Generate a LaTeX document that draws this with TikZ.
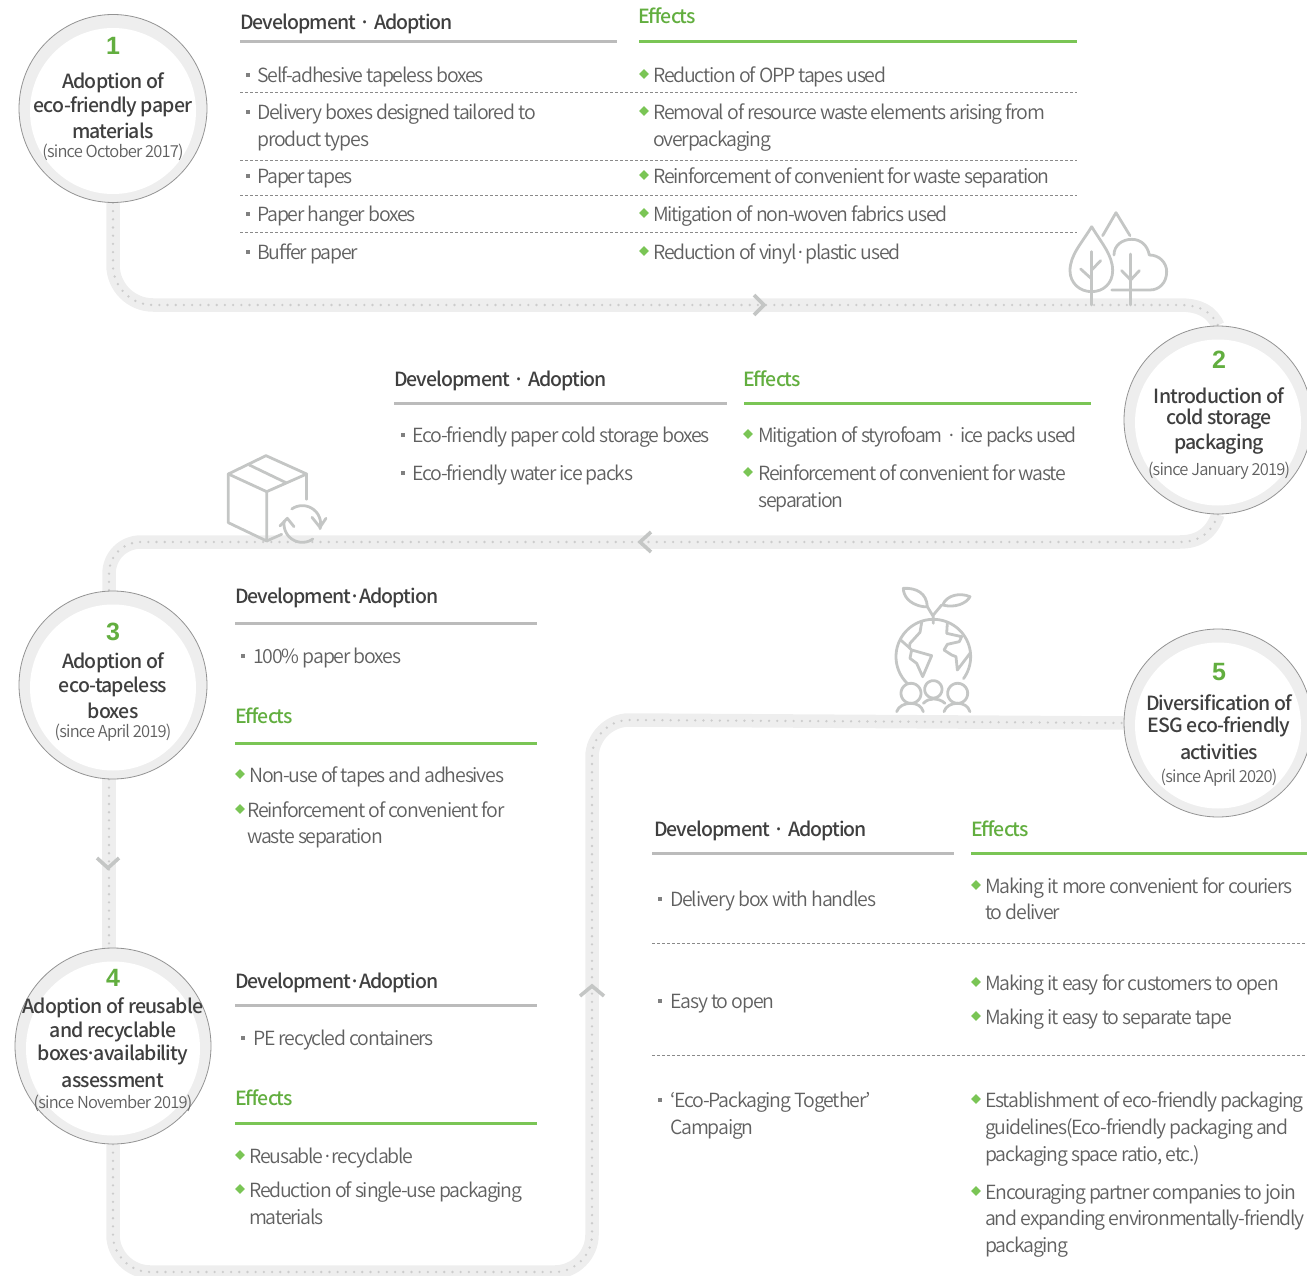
\documentclass[tikz,border=0pt]{standalone}
\usepackage{fontspec}
\setmainfont{Noto Sans CJK KR DemiLight}[LetterSpace=-6,BoldFont={Noto Sans CJK KR DemiLight}]
\newfontfamily\sincefont{Noto Sans CJK KR DemiLight}[LetterSpace=-5]
\newfontfamily\medfont{Noto Sans CJK KR Medium}[LetterSpace=-5]
\newfontfamily\titlefont{Noto Sans CJK KR Medium}[LetterSpace=-3.9]
\newfontfamily\numfont{Liberation Sans Bold}
\usetikzlibrary{backgrounds}
\definecolor{bandc}{HTML}{EEEEEE}
\definecolor{dotc}{HTML}{CCCCCC}
\definecolor{iconc}{HTML}{C4C6C5}
\definecolor{rulec}{HTML}{BBBBBB}
\definecolor{greenc}{HTML}{7AC555}
\definecolor{greent}{HTML}{62AE3F}
\definecolor{textc}{HTML}{606060}
\definecolor{headc}{HTML}{3F3F3F}
\definecolor{dashc}{HTML}{8A8A8A}
\newcounter{tn}
\tikzset{
 band/.style={draw=bandc,line width=13.5pt},
 dotline/.style={draw=dotc,line width=2.6pt,line cap=round,dash pattern=on 0pt off 8.2pt},
 chevron/.style={draw=iconc,line width=3.6pt},
 icon/.style={draw=iconc,line width=2.8pt,line join=round,line cap=round},
 greyrule/.style={draw=rulec,line width=3pt},
 greenrule/.style={draw=greenc,line width=3pt},
 dashrule/.style={draw=dashc,line width=.7pt,dash pattern=on 3pt off 2pt},
 body/.style={anchor=base west,inner sep=0pt,text=textc,font=\fontsize{19.5}{24}\selectfont},
 head/.style={anchor=base west,inner sep=0pt,text=headc,font=\medfont\fontsize{19.5}{24}\selectfont},
 eff/.style={anchor=base west,inner sep=0pt,text=greent,font=\medfont\fontsize{19.5}{24}\selectfont},
 ctitle/.style={anchor=center,inner sep=0pt,yshift=-.5pt,text=headc,font=\titlefont\fontsize{19.5}{24}\selectfont},
 csince/.style={anchor=center,inner sep=0pt,text=textc,font=\sincefont\fontsize{16.5}{20}\selectfont},
 cnum/.style={anchor=center,inner sep=0pt,text=greent,font=\numfont\fontsize{25}{28}\selectfont},
 ringc/.style={circle,draw=gray!85,line width=.8pt,fill=bandc,inner sep=0pt},
 bulsq/.style={fill=textc!80,minimum size=4.4pt,inner sep=0pt,draw=none},
 diam/.style={fill=greenc,draw=none,inner sep=0pt,minimum size=7pt,rotate=45},
}
\newcommand{\tx}[4]{\stepcounter{tn}\node[#1] (t\arabic{tn}) at (#2,#3+1) {#4};}
\newcommand{\bl}[2]{\stepcounter{tn}\node[bulsq] (t\arabic{tn}) at (#1,#2) {};}
\newcommand{\dm}[2]{\stepcounter{tn}\node[diam] (t\arabic{tn}) at (#1,#2) {};}
\newcommand{\hr}[4]{\draw[#1] (#2,#4) -- (#3,#4);}
\begin{document}
\begin{tikzpicture}[x=1pt,y=-1pt]
\useasboundingbox (0,0) rectangle (1307,1276);
\clip (0,0) rectangle (1307,1276);
% circles
\node[ringc,minimum size=188pt] (c1) at (113,108.5) {};
\fill[white] (113,111) circle (83pt);
\node[ringc,minimum size=188pt] (c2) at (1218,420) {};
\fill[white] (1218,422.5) circle (83pt);
\node[ringc,minimum size=188pt] (c3) at (113,685) {};
\fill[white] (113,687.5) circle (83pt);
\node[ringc,minimum size=196pt] (c4) at (113,1046) {};
\fill[white] (113,1048.5) circle (87pt);
\node[ringc,minimum size=188pt] (c5) at (1218,723) {};
\fill[white] (1218,725.5) circle (83pt);
\coordinate (c3top) at (109,592);
% connectors
\begin{scope}[on background layer]
\foreach \st in {band,dotline}{
 \draw[\st] (c1.south) -- (113,265) .. controls (113,287) and (131,305) .. (153,305) -- (1180,305) .. controls (1200,305) and (1212,312) .. (c2.north);
 \draw[\st] (c2.south) .. controls (1212,532) and (1200,542) .. (1180,542) -- (141,542) .. controls (123,542) and (109,556) .. (109,574) -- (c3top);
 \draw[\st] ([xshift=-4pt]c3.south) -- ([xshift=-4pt]c4.north);
 \draw[\st] (c4.south) -- (113,1235) .. controls (113,1255) and (130,1272) .. (150,1272) -- (555,1272) .. controls (575,1272) and (592,1255) .. (592,1235) -- (592,757) .. controls (592,737) and (609,720) .. (629,720) -- (c5.west);
}
\end{scope}
% chevrons
\coordinate (ar1) at (759,305);
\coordinate (ar2) at (645,542);
\coordinate (ar3) at (108,864);
\coordinate (ar4) at (592,990);
\draw[chevron] ([shift={(-5,-10)}]ar1) -- ++(10,10) -- ++(-10,10);
\draw[chevron] ([shift={(6,-10)}]ar2) -- ++(-11,10) -- ++(11,10);
\draw[chevron] ([shift={(-11,-6)}]ar3) -- ++(11,10) -- ++(11,-10);
\draw[chevron] ([shift={(-12,6)}]ar4) -- ++(12,-10) -- ++(12,10);
% trees
\begin{scope}[shift={(1040,200)},x=.3333pt,y=-.3333pt]
\draw[icon] (155,80) .. controls (125,130) and (90,165) .. (90,212) .. controls (90,250) and (120,275) .. (155,275) .. controls (190,275) and (218,250) .. (218,212) .. controls (218,165) and (185,130) .. (155,80);
\draw[icon] (155,155) -- (155,315);
\draw[icon] (122,207) -- (155,237);
\draw[icon] (182,182) -- (155,210);
\draw[icon] (188,107) -- (228,38) -- (270,107);
\draw[icon] (222,165) .. controls (222,135) and (248,118) .. (275,118) .. controls (302,118) and (322,135) .. (328,165) .. controls (358,165) and (380,188) .. (380,215) .. controls (380,248) and (358,270) .. (330,270) -- (215,270);
\draw[icon] (272,162) -- (272,315);
\draw[icon] (245,212) -- (272,240) -- (298,212);
\end{scope}
% box
\begin{scope}[shift={(200,440)},x=.3333pt,y=-.3333pt]
\draw[icon] (85,102) -- (198,47) -- (320,102) -- (200,155) -- cycle;
\draw[icon] (85,102) -- (85,248) -- (200,303) -- (200,155);
\draw[icon] (320,102) -- (320,178);
\draw[icon] (200,303) -- (245,283);
\draw[icon] (148,75) -- (258,128);
\draw[icon] plot[domain=-125:15,samples=30] ({307+55*cos(\x)},{252+55*sin(\x)});
\draw[icon] (336,232) -- (360,262) -- (378,235);
\draw[icon] plot[domain=55:190,samples=30] ({307+55*cos(\x)},{252+55*sin(\x)});
\draw[icon] (240,258) -- (262,235) -- (282,260);
\end{scope}
% globe
\begin{scope}[shift={(870,575)},x=.3333pt,y=-.3333pt]
\draw[icon] plot[domain=-227:36,samples=60] ({190+112*cos(\x)},{245+112*sin(\x)});
\draw[icon] (155,142) -- (150,172) -- (120,205) -- (118,218);
\draw[icon] (92,195) -- (118,218) -- (125,225) -- (185,242) -- (158,305) -- (140,265) -- (120,250) -- (125,225);
\draw[icon] (232,145) -- (230,175) -- (275,185) -- (268,200) -- (232,208) -- (222,225) -- (245,240) -- (258,245) -- (262,285) -- (300,235);
\draw[icon] (190,145) -- (190,125) -- (172,95) -- (160,95);
\draw[icon] (160,95) .. controls (115,88) and (100,60) .. (100,40) .. controls (140,38) and (170,55) .. (172,95);
\draw[icon] (190,120) -- (215,90);
\draw[icon] (218,90) .. controls (230,60) and (270,52) .. (300,65) .. controls (290,85) and (255,100) .. (218,90);
\draw[icon] plot[domain=0:360,samples=50] ({190+26*cos(\x)},{343+26*sin(\x)});
\draw[icon] plot[domain=0:360,samples=50] ({123+30*cos(\x)},{355+30*sin(\x)});
\draw[icon] plot[domain=0:360,samples=50] ({263+30*cos(\x)},{355+30*sin(\x)});
\draw[icon] (80,410) .. controls (85,393) and (105,385) .. (122,385) .. controls (140,385) and (155,393) .. (160,410);
\draw[icon] (222,410) .. controls (227,393) and (245,385) .. (262,385) .. controls (280,385) and (295,393) .. (300,410);
\draw[icon] (160,385) .. controls (170,375) and (180,372) .. (190,372) .. controls (200,372) and (215,375) .. (225,385);
\end{scope}
% circle text
\tx{cnum}{113}{45}{1}
\tx{ctitle}{113}{81}{Adoption of}
\tx{ctitle}{113}{105}{eco-friendly paper}
\tx{ctitle}{113}{129}{materials}
\tx{csince}{113}{151}{(since October 2017)}
\tx{cnum}{1219}{359}{2}
\tx{ctitle}{1219}{394}{Introduction of}
\tx{ctitle}{1219}{418}{cold storage}
\tx{ctitle}{1219}{443}{packaging}
\tx{csince}{1219}{470}{(since January 2019)}
\tx{cnum}{113}{631}{3}
\tx{ctitle}{113}{661}{Adoption of}
\tx{ctitle}{113}{685}{eco-tapeless}
\tx{ctitle}{113}{709}{boxes}
\tx{csince}{113}{732}{(since April 2019)}
\tx{cnum}{113}{977}{4}
\tx{ctitle}{113}{1006}{Adoption of reusable}
\tx{ctitle}{113}{1030}{and recyclable}
\tx{ctitle}{113}{1053}{boxes\hspace{-3pt}·\hspace{-3pt}availability}
\tx{ctitle}{113}{1079}{assessment}
\tx{csince}{113}{1102}{(since November 2019)}
\tx{cnum}{1219}{671}{5}
\tx{ctitle}{1219}{701}{Diversification of}
\tx{ctitle}{1219}{725}{ESG eco-friendly}
\tx{ctitle}{1219}{750}{activities}
\tx{csince}{1219}{777}{(since April 2020)}
% block 1
\tx{head}{240}{29}{Development · Adoption}
\tx{eff}{638}{23}{Effects}
\hr{greyrule}{240}{617}{42}
\hr{greenrule}{639}{1077}{42}
\foreach \yy in {92,160,195,232}{\hr{dashrule}{240}{1077}{\yy}}
\bl{248}{75}\tx{body}{257}{82}{Self-adhesive tapeless boxes}
\bl{248}{112}\tx{body}{257}{119}{Delivery boxes designed tailored to}
\tx{body}{257}{146}{product types}
\bl{248}{176}\tx{body}{257}{183}{Paper tapes}
\bl{248}{214}\tx{body}{257}{221}{Paper hanger boxes}
\bl{248}{252}\tx{body}{257}{258}{Buffer paper}
\dm{644}{74}\tx{body}{653}{82}{Reduction of OPP tapes used}
\dm{644}{111}\tx{body}{653}{119}{Removal of resource waste elements arising from}
\tx{body}{653}{146}{overpackaging}
\dm{644}{175}\tx{body}{653}{183}{Reinforcement of convenient for waste separation}
\dm{644}{213}\tx{body}{653}{221}{Mitigation of non-woven fabrics used}
\dm{644}{251}\tx{body}{653}{258}{Reduction of vinyl·plastic used}
% block 2
\tx{head}{394}{385}{Development · Adoption}
\tx{eff}{743}{385}{Effects}
\hr{greyrule}{394}{727}{403}
\hr{greenrule}{744}{1091}{403}
\bl{403}{435}\tx{body}{412}{441}{Eco-friendly paper cold storage boxes}
\bl{403}{473}\tx{body}{412}{479}{Eco-friendly water ice packs}
\dm{748}{434}\tx{body}{758}{441}{Mitigation of styrofoam · ice packs used}
\dm{748}{472}\tx{body}{758}{479}{Reinforcement of convenient for waste}
\tx{body}{758}{506}{separation}
% block 3
\tx{head}{235}{602}{Development·Adoption}
\hr{greyrule}{235}{537}{623}
\bl{243}{656}\tx{body}{253}{662}{100\% paper boxes}
\tx{eff}{235}{722}{Effects}
\hr{greenrule}{235}{537}{743}
\dm{240}{774}\tx{body}{249}{781}{Non-use of tapes and adhesives}
\dm{240}{809}\tx{body}{247}{816}{Reinforcement of convenient for}
\tx{body}{247}{842}{waste separation}
% block 4
\tx{head}{235}{987}{Development·Adoption}
\hr{greyrule}{235}{537}{1005}
\bl{243}{1038}\tx{body}{253}{1044}{PE recycled containers}
\tx{eff}{235}{1104}{Effects}
\hr{greenrule}{235}{537}{1123}
\dm{240}{1155}\tx{body}{249}{1162}{Reusable·recyclable}
\dm{240}{1189}\tx{body}{249}{1196}{Reduction of single-use packaging}
\tx{body}{249}{1223}{materials}
% block 5
\tx{head}{654}{835}{Development · Adoption}
\tx{eff}{971}{835}{Effects}
\hr{greyrule}{652}{954}{853}
\hr{greenrule}{971}{1307}{853}
\hr{dashrule}{652}{1307}{943}
\hr{dashrule}{652}{1307}{1055}
\bl{660}{899}\tx{body}{670}{905}{Delivery box with handles}
\bl{660}{1001}\tx{body}{670}{1007}{Easy to open}
\bl{660}{1100}\tx{body}{670}{1106}{‘Eco-Packaging Together’}
\tx{body}{670}{1133}{Campaign}
\dm{976}{885}\tx{body}{985}{892}{Making it more convenient for couriers}
\tx{body}{985}{918}{to deliver}
\dm{976}{982}\tx{body}{985}{989}{Making it easy for customers to open}
\dm{976}{1016}\tx{body}{985}{1023}{Making it easy to separate tape}
\dm{976}{1099}\tx{body}{985}{1106}{Establishment of eco-friendly packaging}
\tx{body}{985}{1133}{guidelines(Eco-friendly packaging and}
\tx{body}{985}{1160}{packaging space ratio, etc.)}
\dm{976}{1191}\tx{body}{985}{1198}{Encouraging partner companies to join}
\tx{body}{985}{1224}{and expanding environmentally-friendly}
\tx{body}{985}{1251}{packaging}
\end{tikzpicture}
\end{document}
